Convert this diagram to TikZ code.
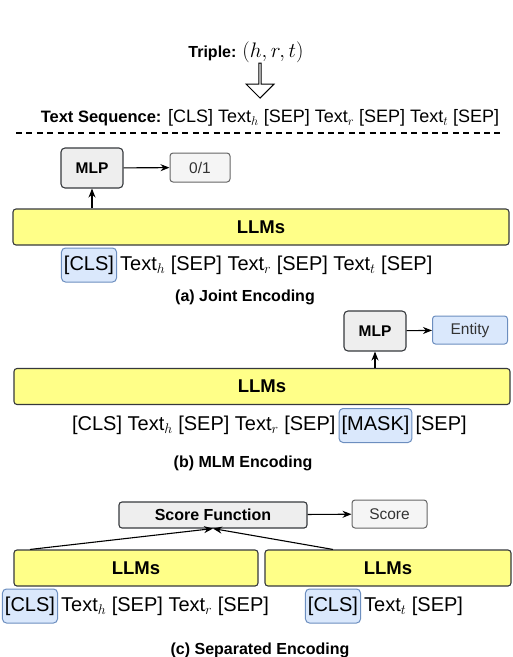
\RequirePackage{fix-cm}
\documentclass[tikz,border=0pt]{standalone}
\usepackage{fontspec}
\setmainfont{Liberation Sans}
\usetikzlibrary{shapes.arrows,arrows.meta}

\definecolor{llmyellow}{HTML}{FFFF88}
\definecolor{llmborder}{HTML}{36393D}
\definecolor{hlfill}{HTML}{DAE8FC}
\definecolor{hlborder}{HTML}{6C8EBF}
\definecolor{mlpfill}{HTML}{EEEEEE}
\definecolor{outfill}{HTML}{F5F5F5}
\definecolor{outborder}{HTML}{666666}

\tikzset{
  llmbox/.style={draw=llmborder,fill=llmyellow,line width=1.1pt,rounded corners=3pt,
    minimum height=36pt,font=\fontsize{18.5}{20}\selectfont\bfseries},
  mlpbox/.style={draw=llmborder,fill=mlpfill,line width=1.1pt,rounded corners=4pt,
    minimum width=62pt,minimum height=40pt,font=\fontsize{15.5}{18}\selectfont\bfseries},
  outbox/.style={draw=outborder,fill=outfill,line width=1pt,rounded corners=3pt,
    text=black!80,minimum height=28pt,font=\fontsize{15.5}{18}\selectfont},
  hlbox/.style={draw=hlborder,fill=hlfill,line width=1pt,rounded corners=4pt,
    inner xsep=2.5pt,minimum height=34pt,font=\fontsize{20}{23}\selectfont},
  seqtext/.style={inner xsep=3pt,font=\fontsize{20}{23}\selectfont},
  caption/.style={font=\fontsize{16}{18}\selectfont\bfseries},
  conn/.style={-{Stealth[length=9pt,width=7pt]},line width=1.1pt}
}

\begin{document}
\begin{tikzpicture}[x=1pt,y=-1pt]
      % \draw[help lines](0,0) grid[step=50] (513,657);

      % Bounding box
      \useasboundingbox (0,0) rectangle (513,657);

      % input triple
      \draw (246,52) node (triple)[font=\fontsize{16}{18}\selectfont]
        {\textbf{Triple:} {\fontsize{21}{24}\selectfont$(h,r,t)$}};
      \draw (260,80) node (bigarrow)[single arrow,draw,fill=white,line width=1pt,shape border rotate=270,
        minimum height=35pt,minimum width=28pt,single arrow head extend=6pt,inner sep=0pt] {};
      \draw (270,118) node (textseq)[font=\fontsize{18}{20}\selectfont]
        {{\fontsize{16.5}{19}\selectfont\bfseries Text Sequence:} [CLS] Text$_h$ [SEP] Text$_r$ [SEP] Text$_t$ [SEP]};

      \draw [line width=1.2pt,dash pattern=on 6pt off 4.4pt] (16,133) -- (500,133);

      % (a) joint encoding
      \draw (92,168) node (mlpA)[mlpbox] {MLP};
      \draw (200,167.5) node (outA)[outbox,minimum width=60pt,minimum height=29pt] {0/1};
      \draw (261,227) node (llmA)[llmbox,minimum width=496pt] {LLMs};
      \draw (89,265) node (clsA)[hlbox] {[CLS]};
      \draw (clsA.base east) node (seqA)[seqtext,anchor=base west]
        {Text$_h$ [SEP] Text$_r$ [SEP] Text$_t$ [SEP]};
      \draw (245,297) node (capA)[caption] {(a) Joint Encoding};

      \draw [conn] (mlpA.south |- llmA.north) -- (mlpA.south);
      \draw [conn] (mlpA) -- (outA);

      % (b) MLM encoding
      \draw (375,331) node (mlpB)[mlpbox] {MLP};
      \draw (470,330) node (outB)[outbox,draw=hlborder,fill=hlfill,minimum width=75pt] {Entity};
      \draw (262,386.5) node (llmB)[llmbox,minimum width=496pt] {LLMs};
      \draw (375.5,425.5) node (maskB)[hlbox] {[MASK]};
      \draw (maskB.base west) node (seqBl)[seqtext,anchor=base east]
        {[CLS] Text$_h$ [SEP] Text$_r$ [SEP]};
      \draw (maskB.base east) node (seqBr)[seqtext,anchor=base west] {[SEP]};
      \draw (243,463) node (capB)[caption] {(b) MLM Encoding};

      \draw [conn] (mlpB.south |- llmB.north) -- (mlpB.south);
      \draw [conn] (mlpB) -- (outB);

      % (c) separated encoding
      \draw (213,515) node (score)[mlpbox,minimum width=188pt,minimum height=26pt,rounded corners=3pt,
        font=\fontsize{16}{18}\selectfont\bfseries] {Score Function};
      \draw (389.5,514) node (outC)[outbox,minimum width=75pt] {Score};
      \draw (136,568) node (llmL)[llmbox,minimum width=244pt] {LLMs};
      \draw (388,568) node (llmR)[llmbox,minimum width=246pt] {LLMs};
      \draw (30,606) node (clsL)[hlbox] {[CLS]};
      \draw (clsL.base east) node (seqL)[seqtext,anchor=base west] {Text$_h$ [SEP] Text$_r$ [SEP]};
      \draw (333,606) node (clsR)[hlbox] {[CLS]};
      \draw (clsR.base east) node (seqR)[seqtext,anchor=base west] {Text$_t$ [SEP]};
      \draw (260,650) node (capC)[caption] {(c) Separated Encoding};

      \draw [conn] (clsL |- llmL.north) -- (score.south);
      \draw [conn] (clsR |- llmR.north) -- (score.south);
      \draw [conn] (score) -- (outC);
    \end{tikzpicture}
\end{document}
